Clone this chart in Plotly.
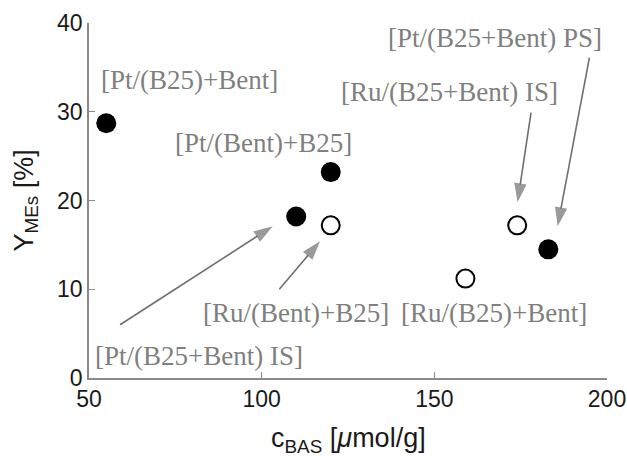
import plotly.graph_objects as go

# Data
pt_x = [55, 110, 120, 183]
pt_y = [28.7, 18.2, 23.2, 14.5]
ru_x = [120, 159, 174]
ru_y = [17.2, 11.2, 17.2]

x_ticks = [50, 100, 150, 200]
y_ticks = [0, 10, 20, 30, 40]

x_title = "c<sub>BAS</sub> [<i>μ</i>mol/g]"
y_title = "Y<sub>MEs</sub> [%]"

# Annotation labels and their anchor points (data coordinates)
label_text = ["[Pt/(B25)+Bent]", "[Pt/(Bent)+B25]", "[Pt/(B25+Bent) PS]",
              "[Ru/(B25+Bent) IS]", "[Ru/(Bent)+B25]", "[Ru/(B25)+Bent]",
              "[Pt/(B25+Bent) IS]"]
label_x = [79.0, 100.4, 167.7, 154.4, 109.9, 167.3, 81.9]
label_y = [33.6, 26.5, 38.3, 32.2, 7.3, 7.3, 2.5]

# Arrows: tail -> tip (data coordinates)
arrow_tail_x = [59.0, 105.1, 178.0, 194.9]
arrow_tail_y = [6.0, 10.0, 29.9, 36.1]
arrow_tip_x = [103.2, 116.9, 174.1, 185.7]
arrow_tip_y = [17.1, 15.4, 19.8, 17.1]

fig = go.Figure()

# arrows as line + arrow-head marker
for tx, ty, hx, hy in zip(arrow_tail_x, arrow_tail_y, arrow_tip_x, arrow_tip_y):
    fig.add_trace(go.Scatter(
        x=[tx, hx], y=[ty, hy], mode="lines+markers",
        line=dict(color="#6f6f6f", width=1.6),
        marker=dict(symbol="arrow", size=[0, 20], angleref="previous",
                    color="#6f6f6f", line=dict(width=0)),
        showlegend=False, hoverinfo="skip"))

fig.add_trace(go.Scatter(x=pt_x, y=pt_y, mode="markers",
                         marker=dict(size=20, color="black", line=dict(width=0)),
                         showlegend=False))
fig.add_trace(go.Scatter(x=ru_x, y=ru_y, mode="markers",
                         marker=dict(size=18, color="white", line=dict(width=2, color="black")),
                         showlegend=False))

annotations = []
for t, x, y in zip(label_text, label_x, label_y):
    annotations.append(dict(x=x, y=y, xref="x", yref="y", text=t, showarrow=False,
                            font=dict(family="Liberation Serif", size=27, color="#7f7f7f"),
                            xanchor="center", yanchor="middle"))

title_font = dict(family="Liberation Sans", size=27, color="#1a1a1a")
annotations.append(dict(x=0.5, y=0, xref="paper", yref="paper", yshift=-62,
                        text=x_title, showarrow=False, font=title_font,
                        xanchor="center", yanchor="middle"))
annotations.append(dict(x=0, y=0.5, xref="paper", yref="paper", xshift=-64,
                        text=y_title, showarrow=False, font=title_font,
                        textangle=-90, xanchor="center", yanchor="middle"))

axis_common = dict(showline=True, linecolor="#8a8a8a", linewidth=1.5,
                   ticks="inside", ticklen=6, tickwidth=1.2, tickcolor="#8a8a8a",
                   showgrid=False, zeroline=False, mirror=False, automargin=False,
                   tickfont=dict(family="Liberation Sans", size=23, color="#1a1a1a"))

fig.update_layout(
    width=627, height=456,
    margin=dict(l=89, r=20, t=23, b=78),
    plot_bgcolor="white", paper_bgcolor="white",
    annotations=annotations,
    xaxis=dict(range=[50, 200], tickvals=x_ticks, **axis_common),
    yaxis=dict(range=[0, 40], tickvals=y_ticks, **axis_common),
)

fig.write_html("out.html", config={"displayModeBar": False},
               post_script="document.body.style.margin='0';document.body.style.overflow='hidden';")
